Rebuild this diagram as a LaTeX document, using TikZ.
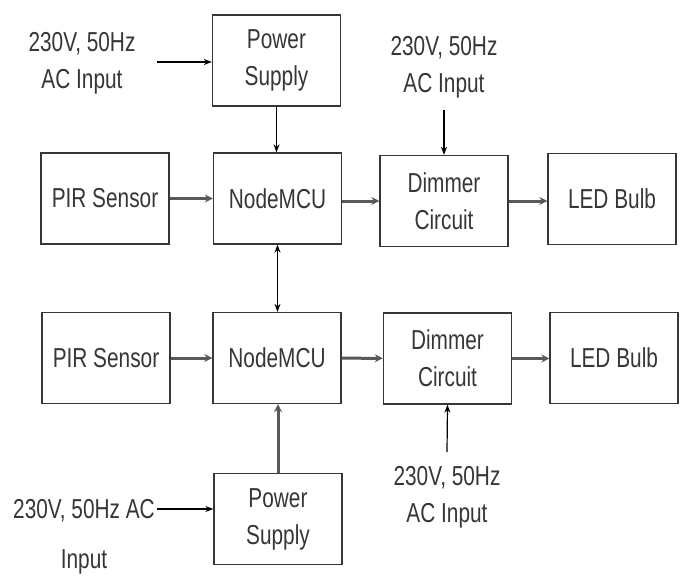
\documentclass[tikz,border=0pt]{standalone}
\usepackage{fontspec}
\setmainfont{Liberation Sans}[FakeStretch=0.76]
\usetikzlibrary{arrows.meta}
\definecolor{ink}{HTML}{363636}
\definecolor{pipe}{HTML}{595959}
\begin{document}
\begin{tikzpicture}[x=1bp, y=-1bp, every node/.style={font=\fontsize{27.5}{37}\selectfont, text=ink, align=center}, block/.style={draw=ink, line width=1.3bp, minimum width=128bp, minimum height=91bp, inner sep=0pt}, feed/.style={black, line width=1.2bp, -{Stealth[length=8bp, width=6bp]}}, signal/.style={pipe, line width=3bp, -{Stealth[length=8bp, width=8bp]}}]
    \useasboundingbox (0, 0) rectangle (681, 576);
		\node[block] (ps1) at (276.5, 60.5) {Power\\Supply};
		\node[block] (pir1) at (105, 198.5) {PIR Sensor};
		\node[block] (mcu1) at (277.5, 198.5) {NodeMCU};
		\node[block] (dim1) at (444, 201) {Dimmer\\Circuit};
		\node[block] (led1) at (612, 199) {LED Bulb};
		\node[block] (pir2) at (106, 358) {PIR Sensor};
		\node[block] (mcu2) at (277, 358) {NodeMCU};
		\node[block] (dim2) at (447.5, 358.5) {Dimmer\\Circuit};
		\node[block] (led2) at (614, 358) {LED Bulb};
		\node[block] (ps2) at (278, 519) {Power\\Supply};
		\node (ac1) at (82, 63) {230V, 50Hz\\AC Input};
		\node (ac2) at (444, 67) {230V, 50Hz\\AC Input};
		\node (ac3) at (447, 497) {230V, 50Hz\\AC Input};
		\node (ac4) at (84, 537) {230V, 50Hz AC\\[13bp]Input};
		\coordinate (in1) at (157, 62);
		\coordinate (in2) at (444, 110);
		\coordinate (in3) at (447, 452);
		\coordinate (in4) at (157, 509);
		\draw[feed] (in1) -- (in1 -| ps1.west);
		\draw[feed] (in2) -- (dim1.north);
		\draw[feed] (in3) -- (dim2.south);
		\draw[feed] (in4) -- (in4 -| ps2.west);
		\draw[feed] (ps1) -- (ps1 |- mcu1.north);
		\draw[feed, <->, >={Stealth[length=8bp, width=6bp]}] (mcu1) -- (mcu1 |- mcu2.north);
		\draw[signal] (pir1) -- (mcu1);
		\draw[signal] (mcu1.east |- dim1) -- (dim1);
		\draw[signal] (dim1) -- (dim1 -| led1.west);
		\draw[signal] (pir2) -- (mcu2);
		\draw[signal] (mcu2) -- (dim2);
		\draw[signal] (dim2) -- (dim2 -| led2.west);
		\draw[signal] (ps2) -- (ps2 |- mcu2.south);
	\end{tikzpicture}
\end{document}
